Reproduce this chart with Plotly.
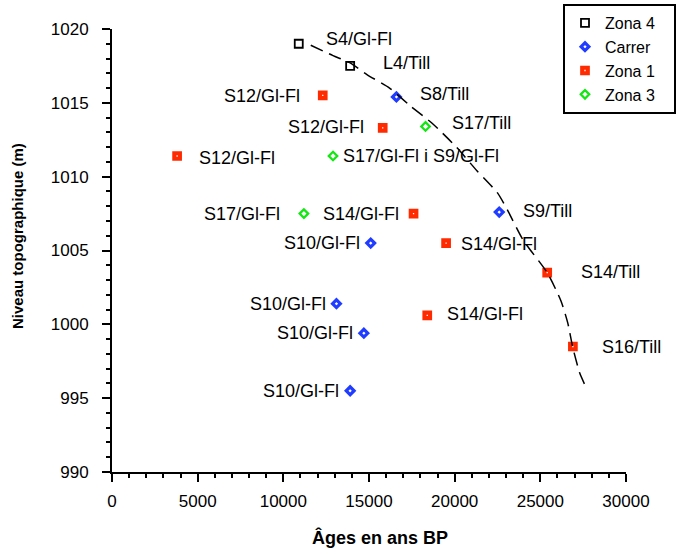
import plotly.graph_objects as go

# ---- data ----
zona4_age = [10900, 13900]
zona4_alt = [1019.0, 1017.5]
zona4_lab = ["S4/Gl-Fl", "L4/Till"]

carrer_age = [16600, 22600, 15100, 13100, 14700, 13900]
carrer_alt = [1015.4, 1007.6, 1005.5, 1001.4, 999.4, 995.5]
carrer_lab = ["S8/Till", "S9/Till", "S10/Gl-Fl", "S10/Gl-Fl", "S10/Gl-Fl", "S10/Gl-Fl"]

zona1_age = [12300, 15800, 3800, 17600, 19500, 25400, 18400, 26900]
zona1_alt = [1015.5, 1013.3, 1011.4, 1007.5, 1005.5, 1003.5, 1000.6, 998.5]
zona1_lab = ["S12/Gl-Fl", "S12/Gl-Fl", "S12/Gl-Fl", "S14/Gl-Fl", "S14/Gl-Fl",
             "S14/Till", "S14/Gl-Fl", "S16/Till"]

zona3_age = [18300, 12900, 11200]
zona3_alt = [1013.4, 1011.4, 1007.5]
zona3_lab = ["S17/Till", "S17/Gl-Fl i S9/Gl-Fl", "S17/Gl-Fl"]

curve_age = [11600, 12900, 13900, 14900, 16200, 17400, 18700, 20100, 21300,
             22500, 23100, 24000, 25400, 26200, 26600, 26900, 27300, 27600]
curve_alt = [1018.9, 1018.2, 1017.7, 1016.9, 1016.0, 1014.8, 1013.6, 1012.0, 1010.4,
             1008.9, 1007.7, 1005.7, 1003.5, 1001.6, 1000.1, 998.4, 996.7, 995.9]

x_ticks = [0, 5000, 10000, 15000, 20000, 25000, 30000]
y_ticks = [990, 995, 1000, 1005, 1010, 1015, 1020]

# ---- label placement (pixels): side, dx, dy(down) ----
zona4_pos = [("r", 25, -5), ("r", 31, -3)]
carrer_pos = [("r", 22, -3), ("r", 22, -1), ("l", -9, 0), ("l", -8, 0), ("l", -9, 0), ("l", -9, 0)]
zona1_pos = [("l", -21, 1), ("l", -17, -1), ("r", 20, 2), ("l", -13, 0), ("r", 13, 1),
             ("r", 32, -1), ("r", 18, -1), ("r", 27, 1)]
zona3_pos = [("r", 24, -3), ("r", 8, 0), ("l", -22, 0)]

FONT = "Liberation Sans, Arial, Helvetica, sans-serif"
RED = "#ff2a00"
BLUE = "#1f3cff"
GREEN = "#14e614"
PAD = "\u00a0\u00a0\u00a0"

L, R, T, B = 112, 58, 29, 78
W, H = 684, 550
pw, ph = W - L - R, H - T - B

fig = go.Figure()
fig.add_trace(go.Scatter(x=zona4_age, y=zona4_alt, mode="markers", name="Zona 4" + PAD,
                         marker=dict(symbol="square-open", size=8, color="black",
                                     line=dict(width=1.8, color="black"))))
fig.add_trace(go.Scatter(x=carrer_age, y=carrer_alt, mode="markers", name="Carrer" + PAD,
                         marker=dict(symbol="diamond-open", size=6, color=BLUE,
                                     line=dict(width=3.2, color=BLUE))))
fig.add_trace(go.Scatter(x=zona1_age, y=zona1_alt, mode="markers", name="Zona 1" + PAD,
                         marker=dict(symbol="square-open", size=5.5, color=RED,
                                     line=dict(width=4.2, color=RED))))
fig.add_trace(go.Scatter(x=zona3_age, y=zona3_alt, mode="markers", name="Zona 3" + PAD,
                         marker=dict(symbol="diamond-open", size=6.5, color=GREEN,
                                     line=dict(width=2.3, color=GREEN))))
fig.add_trace(go.Scatter(x=curve_age, y=curve_alt, mode="lines", showlegend=False,
                         line=dict(color="black", width=1.5, dash="13px,7px",
                                   shape="spline", smoothing=0.6),
                         hoverinfo="skip"))

annotations = []
for ages, alts, labs, poss in [(zona4_age, zona4_alt, zona4_lab, zona4_pos),
                               (carrer_age, carrer_alt, carrer_lab, carrer_pos),
                               (zona1_age, zona1_alt, zona1_lab, zona1_pos),
                               (zona3_age, zona3_alt, zona3_lab, zona3_pos)]:
    for a, h, t, (side, dx, dy) in zip(ages, alts, labs, poss):
        annotations.append(dict(x=a, y=h, xref="x", yref="y", text=t, showarrow=False,
                                xanchor="left" if side == "r" else "right",
                                yanchor="middle", xshift=dx, yshift=-dy,
                                font=dict(family=FONT, size=18, color="black")))

annotations.append(dict(x=(380 - L) / pw, y=(H - B - 537) / ph, xref="paper", yref="paper",
                        xanchor="center", yanchor="middle",
                        text="<b>Âges en ans BP</b>", showarrow=False,
                        font=dict(family=FONT, size=18, color="black")))
annotations.append(dict(x=(17 - L) / pw, y=(H - B - 236) / ph, xref="paper", yref="paper",
                        xanchor="center", yanchor="middle",
                        text="<b>Niveau topographique (m)</b>", textangle=-90,
                        showarrow=False, font=dict(family=FONT, size=15, color="black")))

axis_common = dict(showgrid=False, zeroline=False, showline=True, linecolor="black",
                   linewidth=2, ticks="outside", ticklen=8, tickwidth=1.5, tickcolor="black",
                   tickfont=dict(family=FONT, size=17, color="black"), mirror=False)

fig.update_xaxes(range=[0, 30000], tickvals=x_ticks, ticktext=[str(v) for v in x_ticks],
                 minor=dict(dtick=1000, ticks="outside", ticklen=4, tickwidth=1.5, tickcolor="black"),
                 ticklabelstandoff=5, **axis_common)
fig.update_yaxes(range=[990, 1020], tickvals=y_ticks, ticktext=[str(v) for v in y_ticks],
                 minor=dict(dtick=1, ticks="outside", ticklen=4, tickwidth=1.5, tickcolor="black"),
                 ticklabelstandoff=10, **axis_common)

fig.update_layout(
    width=W, height=H,
    margin=dict(l=L, r=R, t=T, b=B, autoexpand=False),
    plot_bgcolor="white", paper_bgcolor="white",
    font=dict(family=FONT, color="black"),
    showlegend=True,
    annotations=annotations,
    legend=dict(x=(563 - L) / pw, y=(H - B - 4) / ph, xanchor="left", yanchor="top",
                bordercolor="black", borderwidth=2, bgcolor="white",
                font=dict(family=FONT, size=16, color="black"),
                tracegroupgap=0),
)

fig.write_html("out.html")
